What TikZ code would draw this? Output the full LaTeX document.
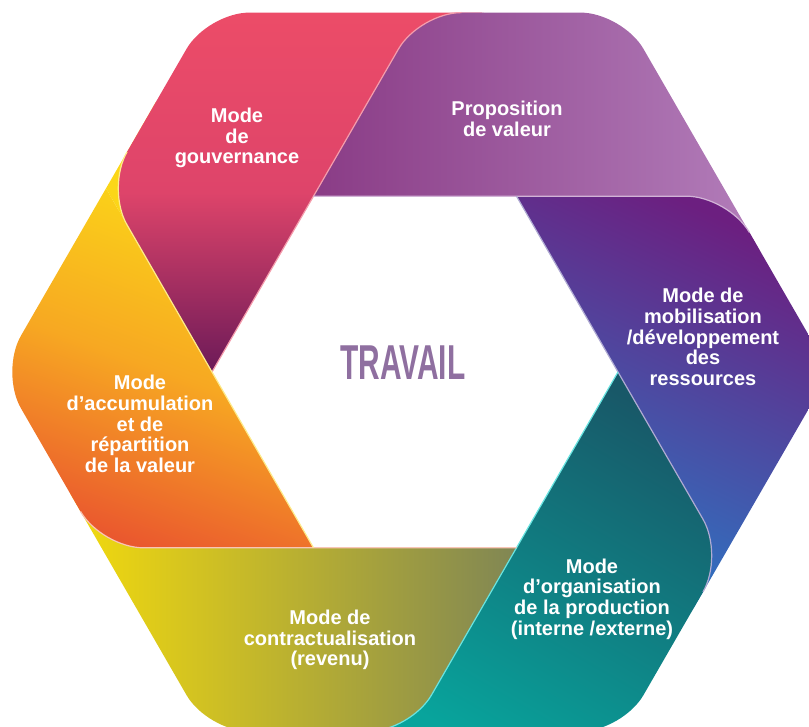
\documentclass[tikz,border=0pt]{standalone}
\usepackage{fontspec}
\setmainfont{Liberation Sans}
\usetikzlibrary{calc}

\definecolor{govtop}{RGB}{236,76,104}
\definecolor{govmid}{RGB}{222,68,106}
\definecolor{govbot}{RGB}{108,26,88}
\definecolor{propleft}{RGB}{138,60,134}
\definecolor{propright}{RGB}{180,128,188}
\definecolor{mobtop}{RGB}{108,31,128}
\definecolor{mobbot}{RGB}{38,126,202}
\definecolor{orgtop}{RGB}{24,88,104}
\definecolor{orgbot}{RGB}{8,164,156}
\definecolor{conleft}{RGB}{248,222,10}
\definecolor{conright}{RGB}{128,134,84}
\definecolor{acctop}{RGB}{251,214,24}
\definecolor{accmid}{RGB}{247,168,34}
\definecolor{accbot}{RGB}{234,88,46}
\definecolor{travail}{RGB}{143,111,160}

\begin{document}
\begin{tikzpicture}[x=1pt,y=1pt]
\tikzstyle{every node}=[font=\fontsize{20}{20.7}\selectfont\bfseries]
\tikzstyle{bandtext}=[text=white, align=center]
\tikzstyle{fold}=[line width=1.2pt]

\useasboundingbox (-415,-355) rectangle (394,372);
\clip (-415,-355) rectangle (394,372);

% inner and outer hexagon corners
\foreach \k/\a in {0/120,1/60,2/0,3/-60,4/-120,5/180} {
	\coordinate (I\k) at (\a:203);
	\coordinate (O\k) at (\a:415);
}
\foreach \k/\n in {0/1,1/2,2/3,3/4,4/5,5/0} {
	\coordinate (S\k) at ($(O\k)!212pt!(O\n)$);
	\coordinate (T\k) at ($(S\k)!42pt!(O\n)$);
}
\foreach \k/\n/\m in {0/1/2,1/2/3,2/3/4,3/4/5,4/5/0,5/0/1}
	\coordinate (P\k) at ($(S\n)!100pt!(O\m)$);

% the ribbon
\fill[acctop] (I5) -- (S5) -- (P4) -- cycle;
\shade[top color=govtop, bottom color=govbot, middle color=govmid]
	(I5) [rounded corners=42pt] -- (S5) -- (O0) -- (P5) [sharp corners] -- (I0) -- cycle;
\shade[left color=propleft, right color=propright]
	(I0) [rounded corners=42pt] -- (S0) -- (O1) -- (P0) [sharp corners] -- (I1) -- cycle;
\shade[top color=mobtop, bottom color=mobbot, shading angle=-25]
	(I1) [rounded corners=42pt] -- (S1) -- (O2) -- (P1) [sharp corners] -- (I2) -- cycle;
\shade[top color=orgtop, bottom color=orgbot, shading angle=-30]
	(I2) [rounded corners=42pt] -- (S2) -- (O3) -- (P2) [sharp corners] -- (I3) -- cycle;
\shade[left color=conleft, right color=conright]
	(I3) [rounded corners=42pt] -- (S3) -- (O4) -- (P3) [sharp corners] -- (I4) -- cycle;
\shade[top color=acctop, bottom color=accbot, middle color=accmid, shading angle=-20]
	(I4) [rounded corners=42pt] -- (S4) -- (O5) [sharp corners] -- (S5) -- (I5) -- cycle;

% light edges along the folds
\draw[fold, govtop!55!white] (I5) -- (I0) [rounded corners=42pt] -- (S0) -- (T0);
\draw[fold, propright!60!white] (I0) -- (I1) [rounded corners=42pt] -- (S1) -- (T1);
\draw[fold, mobbot!40!mobtop!45!white] (I1) -- (I2) [rounded corners=42pt] -- (S2) -- (T2);
\draw[fold, orgbot!50!cyan!60!white] (I2) -- (I3) [rounded corners=42pt] -- (S3) -- (T3);
\draw[fold, accbot!35!white] (I3) -- (I4) [rounded corners=42pt] -- (S4) -- (T4);
\draw[fold, acctop!50!white] (I4) -- (I5) [rounded corners=42pt] -- (S5) -- (T5);

\node[bandtext] (gouv) at (-178,234) {Mode\\de\\gouvernance};
\node[bandtext] (prop) at (92,253) {Proposition\\de valeur};
\node[bandtext] (mob) at (288,35) {Mode de\\mobilisation\\/développement\\des\\ressources};
\node[bandtext] (org) at (177,-227) {Mode\\d’organisation\\de la production\\(interne /externe)};
\node[bandtext] (con) at (-85,-268) {Mode de\\contractualisation\\(revenu)};
\node[bandtext] (acc) at (-275,-52) {Mode\\d’accumulation\\et de\\répartition\\de la valeur};

\node[text=travail, font=\fontsize{49}{49}\selectfont\bfseries] (trav) at (-12,9) {\scalebox{0.61}[1]{TRAVAIL}};

\end{tikzpicture}
\end{document}
